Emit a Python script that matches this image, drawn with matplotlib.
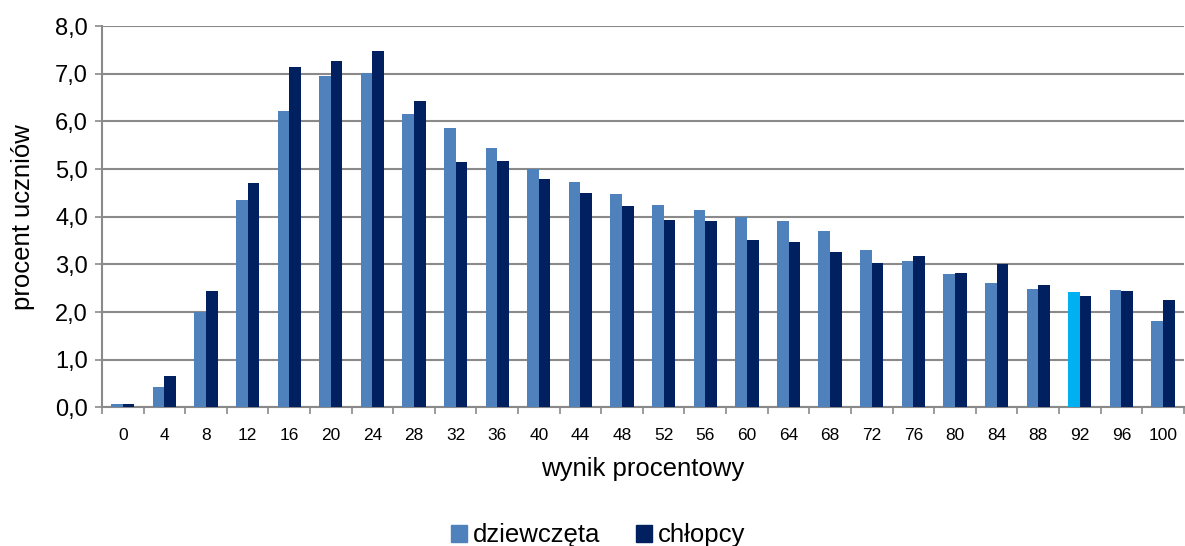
import matplotlib
matplotlib.use("Agg")
import matplotlib.pyplot as plt
import numpy as np
from matplotlib.ticker import FuncFormatter
from matplotlib.patches import Patch

plt.rcParams["font.family"] = ["Liberation Sans", "DejaVu Sans"]

GIRLS_C, BOYS_C, HILITE_C, GRID_C = "#4F81BD", "#002060", "#00B0F0", "#8A8A8A"

scores = [0, 4, 8, 12, 16, 20, 24, 28, 32, 36, 40, 44, 48, 52, 56, 60,
          64, 68, 72, 76, 80, 84, 88, 92, 96, 100]
girls = [0.06, 0.43, 2.01, 4.36, 6.21, 6.95, 7.01, 6.15, 5.87, 5.45, 5.00,
         4.73, 4.48, 4.24, 4.15, 4.00, 3.91, 3.71, 3.31, 3.08, 2.80, 2.61,
         2.49, 2.43, 2.47, 1.82]
boys = [0.06, 0.65, 2.45, 4.70, 7.15, 7.26, 7.48, 6.43, 5.15, 5.17, 4.79,
        4.49, 4.22, 3.94, 3.92, 3.51, 3.47, 3.27, 3.03, 3.17, 2.82, 3.01,
        2.56, 2.34, 2.45, 2.25]
highlight = 92

fig = plt.figure(figsize=(11.85, 5.46), dpi=100)
ax = fig.add_axes([0.086, 0.254, 0.913, 0.698])

x = np.arange(len(scores))
w = 0.28
girl_colors = [HILITE_C if s == highlight else GIRLS_C for s in scores]
ax.bar(x - w / 2, girls, width=w, color=girl_colors, zorder=3)
ax.bar(x + w / 2, boys, width=w, color=BOYS_C, zorder=3)

ax.set_xlim(-0.5, len(scores) - 0.5)
ax.set_ylim(0, 8)
ax.set_yticks(np.arange(0, 8.1, 1))
ax.yaxis.set_major_formatter(FuncFormatter(lambda v, p: f"{v:.1f}".replace(".", ",")))
ax.grid(axis="y", color=GRID_C, linewidth=1.5, zorder=0)

ax.set_xticks(x, [str(s) for s in scores])
ax.set_xticks(np.arange(-0.5, len(scores), 1), minor=True)
ax.tick_params(axis="x", which="major", length=0, labelsize=12.5, pad=15)
ax.tick_params(axis="x", which="minor", length=5, color=GRID_C, width=1.2)
ax.tick_params(axis="y", length=5, color=GRID_C, width=1.2, labelsize=17, pad=5)

for side in ("top", "right"):
    ax.spines[side].set_visible(False)
for side in ("left", "bottom"):
    ax.spines[side].set_color(GRID_C)
    ax.spines[side].set_linewidth(1.5)

ax.set_xlabel("wynik procentowy", fontsize=18.5, labelpad=10)
ax.set_ylabel("procent uczniów", fontsize=18.5)
ax.yaxis.set_label_coords(-0.062, 0.5)

handles = [Patch(color=GIRLS_C, label="dziewczęta"),
           Patch(color=BOYS_C, label="chłopcy")]
fig.legend(handles=handles, loc="lower center", bbox_to_anchor=(0.505, -0.045),
           ncol=2, frameon=False, fontsize=18.5, handlelength=0.6,
           handleheight=0.6, handletextpad=0.25, columnspacing=1.4)

fig.savefig("out.png", dpi=100)
